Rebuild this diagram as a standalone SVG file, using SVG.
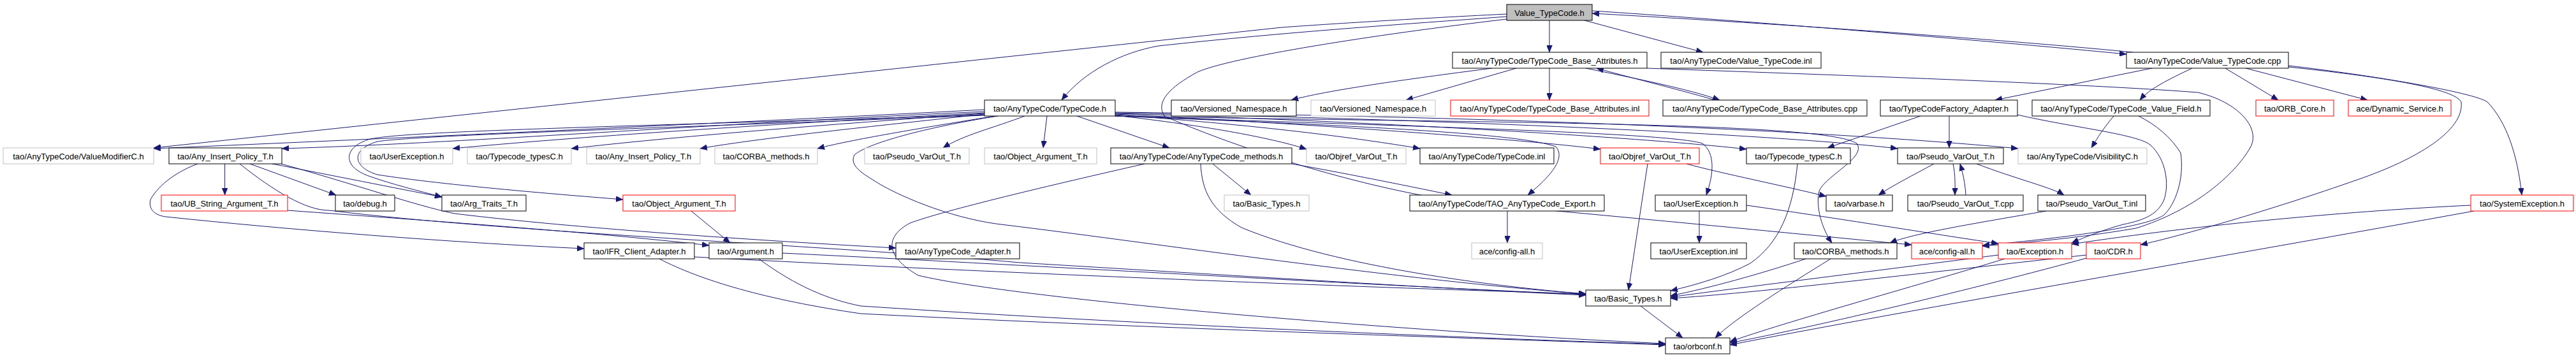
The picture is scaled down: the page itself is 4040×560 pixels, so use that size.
<svg xmlns="http://www.w3.org/2000/svg" width="4040" height="560" viewBox="0 0 4040 560">
<style>
.nd rect{fill:#fff;stroke:#000;stroke-width:1}
.nd.g rect{stroke:#bfbfbf}
.nd.r rect{stroke:#ff0000}
.nd.root rect{fill:#bfbfbf;stroke:#000}
.nd text{font-family:"Liberation Sans",Arial,sans-serif;font-size:13px;text-anchor:middle;fill:#000}
#edges path{fill:none;stroke:#191970;stroke-width:1}
</style>
<defs>
<marker id="a" markerUnits="userSpaceOnUse" markerWidth="11" markerHeight="9" refX="11" refY="4.5" orient="auto">
<path d="M0,0 L11,4.5 L0,9 z" fill="#191970" stroke="#191970" stroke-width="0.5"/>
</marker>
</defs>
<rect width="4040" height="560" fill="#fff"/>
<g id="edges" marker-end="url(#a)">
<path d="M2430,32 L2430,82"/>
<path d="M2485,32 L2671,82"/>
<path d="M2497,17 C2700,30 3100,62 3335,85"/>
<path d="M3345,82 C3100,58 2700,32 2497,21"/>
<path d="M2363,26 C2200,38 2020,50 1817,72 C1760,82 1700,112 1665,157"/>
<path d="M2363,22 C2200,30 2050,40 2010,43 L241,232"/>
<path d="M2363,30 C2150,55 1930,90 1878,113 C1834,137 1812,160 1826,182 C1900,215 2100,290 2300,318 C2600,345 2850,370 2998,384"/>
<path d="M2340,107 C2200,125 2080,142 2025,157"/>
<path d="M2378,107 L2205,157"/>
<path d="M2430,107 L2430,157"/>
<path d="M2487,107 C2560,122 2650,140 2697,157"/>
<path d="M2690,157 C2620,137 2550,120 2504,107"/>
<path d="M2583,107 C2800,115 3250,130 3447,145 C3510,160 3545,200 3530,230 C3505,275 3440,330 3350,358 C3250,375 3160,382 3109,386"/>
<path d="M1544,172 C1200,190 600,218 241,233"/>
<path d="M1544,175 C1100,195 700,226 442,233"/>
<path d="M1544,177 C1200,195 900,215 710,233"/>
<path d="M1544,178 C1300,195 1050,215 896,233"/>
<path d="M1544,179 C1400,195 1200,215 1098,233"/>
<path d="M1560,182 C1450,200 1330,220 1282,233"/>
<path d="M1607,182 C1560,200 1510,212 1479,232"/>
<path d="M1642,182 L1636,232"/>
<path d="M1689,182 L1834,232"/>
<path d="M1544,180 C1000,198 640,205 581,218 C538,230 535,262 581,277 C615,289 655,299 693,309"/>
<path d="M1544,181 C1000,202 660,212 592,222 C550,234 552,262 592,274 C700,291 890,306 977,313"/>
<path d="M1902,257 L1962,306"/>
<path d="M1749,181 C1900,198 2000,218 2049,234"/>
<path d="M1749,180 C2000,198 2150,220 2227,233"/>
<path d="M1749,179 C2100,197 2400,220 2510,234"/>
<path d="M1749,178 C2200,192 2600,218 2739,234"/>
<path d="M1749,177 C2300,188 2800,212 2976,233"/>
<path d="M1749,176 C2400,183 2900,208 3165,233"/>
<path d="M1749,182 C2100,196 2380,208 2440,230 C2458,250 2425,282 2396,306"/>
<path d="M1749,182 C2200,198 2620,208 2670,225 C2690,240 2688,272 2676,306"/>
<path d="M1565,182 C1450,200 1360,225 1340,243 C1330,262 1360,276 1380,289 C1420,312 1500,345 1578,353 C1800,380 2200,440 2487,461"/>
<path d="M2364,331 L2364,381"/>
<path d="M1749,182 C2300,193 2860,190 2912,225 C2928,247 2862,276 2853,300 C2847,325 2858,360 2873,381"/>
<path d="M2645,257 C2700,272 2800,292 2864,308"/>
<path d="M2819,257 C2812,330 2790,382 2745,413 C2710,432 2660,447 2620,456"/>
<path d="M2584,257 L2554,455"/>
<path d="M2665,331 L2665,381"/>
<path d="M2739,322 C2900,345 3050,370 3134,382"/>
<path d="M2573,480 L2639,530"/>
<path d="M2871,406 C2800,450 2720,500 2690,530"/>
<path d="M3144,406 C3000,450 2800,505 2713,536"/>
<path d="M3272,405 C3100,452 2850,512 2713,538"/>
<path d="M3880,331 C3500,400 3000,485 2713,541"/>
<path d="M2832,406 C2760,430 2680,452 2620,464"/>
<path d="M3134,400 C2900,430 2700,455 2620,466"/>
<path d="M3272,400 C3000,430 2750,460 2620,468"/>
<path d="M3875,322 C3700,330 3450,352 3249,383"/>
<path d="M3589,105 C3750,122 3850,140 3860,160 C3865,205 3790,250 3697,282 C3560,330 3420,370 3357,384"/>
<path d="M3589,103 C3720,118 3880,145 3901,160 C3930,190 3948,240 3955,306"/>
<path d="M3375,107 L3129,157"/>
<path d="M3438,107 C3400,125 3370,140 3356,157"/>
<path d="M3490,107 L3573,157"/>
<path d="M3522,107 L3713,157"/>
<path d="M3012,182 L2866,232"/>
<path d="M3057,182 L3057,232"/>
<path d="M3164,180 C3250,200 3350,210 3372,227 C3398,250 3402,290 3394,313 C3385,335 3365,345 3330,352 C3300,360 3270,372 3249,381"/>
<path d="M3354,182 C3380,195 3405,215 3420,240 C3426,280 3412,320 3394,337 C3370,355 3250,372 3109,385"/>
<path d="M3033,257 C3000,275 2970,290 2946,306"/>
<path d="M3063,257 C3067,275 3066,292 3066,306"/>
<path d="M3083,306 C3082,287 3078,270 3074,257"/>
<path d="M3100,257 C3160,280 3220,295 3237,306"/>
<path d="M3209,331 C3100,350 3000,366 2964,381"/>
<path d="M3315,182 C3300,200 3290,215 3280,232"/>
<path d="M352.6,257 L352.6,306"/>
<path d="M392,257 L527,306"/>
<path d="M376,257 C430,300 480,330 516,330 C800,365 1300,385 1600,412 C1900,430 2300,455 2487,463"/>
<path d="M451,330 C700,348 950,366 1112,385"/>
<path d="M310,257 C280,268 250,288 236,313 C232,330 245,338 260,340 C450,360 700,380 916,390"/>
<path d="M427,257 C520,275 620,295 693,309"/>
<path d="M441,257 C560,290 650,322 713,335 C900,358 1200,378 1405,389"/>
<path d="M1089,403 C1500,425 2100,450 2487,461"/>
<path d="M1227,397 C1600,415 2100,445 2487,462"/>
<path d="M1034,406 C1100,440 1200,470 1350,492 C1800,515 2300,530 2612,541"/>
<path d="M1190,406 C1250,450 1300,470 1350,480 C1800,510 2300,530 2612,540"/>
<path d="M1795,257 C1650,290 1480,330 1427,350 C1390,370 1385,400 1440,432 C1600,470 2200,520 2612,539"/>
<path d="M1883,257 C1885,300 1900,330 1947,357 C2100,420 2350,450 2487,461"/>
<path d="M2026,257 C2100,270 2200,290 2277,306"/>
<path d="M1084,331 L1145,381"/>
</g>
<g id="n0" class="nd root"><rect x="2363" y="7" width="134" height="25"/><text x="2430" y="24.5">Value_TypeCode.h</text></g>
<g id="n1" class="nd"><rect x="2278" y="82" width="305" height="25"/><text x="2430.5" y="99.5">tao/AnyTypeCode/TypeCode_Base_Attributes.h</text></g>
<g id="n2" class="nd"><rect x="2605" y="82" width="251" height="25"/><text x="2730.5" y="99.5">tao/AnyTypeCode/Value_TypeCode.inl</text></g>
<g id="n3" class="nd"><rect x="3335" y="82" width="254" height="25"/><text x="3462" y="99.5">tao/AnyTypeCode/Value_TypeCode.cpp</text></g>
<g id="n4" class="nd"><rect x="1544" y="157" width="205" height="25"/><text x="1646.5" y="174.5">tao/AnyTypeCode/TypeCode.h</text></g>
<g id="n5" class="nd"><rect x="1837" y="157" width="196" height="25"/><text x="1935" y="174.5">tao/Versioned_Namespace.h</text></g>
<g id="n6" class="nd g"><rect x="2056" y="157" width="195" height="25"/><text x="2153.5" y="174.5">tao/Versioned_Namespace.h</text></g>
<g id="n7" class="nd r"><rect x="2275" y="157" width="311" height="25"/><text x="2430.5" y="174.5">tao/AnyTypeCode/TypeCode_Base_Attributes.inl</text></g>
<g id="n8" class="nd"><rect x="2608" y="157" width="320" height="25"/><text x="2768" y="174.5">tao/AnyTypeCode/TypeCode_Base_Attributes.cpp</text></g>
<g id="n9" class="nd"><rect x="2949" y="157" width="215" height="25"/><text x="3056.5" y="174.5">tao/TypeCodeFactory_Adapter.h</text></g>
<g id="n10" class="nd"><rect x="3187" y="157" width="279" height="25"/><text x="3326.5" y="174.5">tao/AnyTypeCode/TypeCode_Value_Field.h</text></g>
<g id="n11" class="nd r"><rect x="3538" y="157" width="122" height="25"/><text x="3599" y="174.5">tao/ORB_Core.h</text></g>
<g id="n12" class="nd r"><rect x="3683" y="157" width="161" height="25"/><text x="3763.5" y="174.5">ace/Dynamic_Service.h</text></g>
<g id="n13" class="nd g"><rect x="5" y="232" width="236" height="25"/><text x="123" y="249.5">tao/AnyTypeCode/ValueModifierC.h</text></g>
<g id="n14" class="nd"><rect x="265" y="232" width="177" height="25"/><text x="353.5" y="249.5">tao/Any_Insert_Policy_T.h</text></g>
<g id="n15" class="nd g"><rect x="566" y="232" width="144" height="25"/><text x="638" y="249.5">tao/UserException.h</text></g>
<g id="n16" class="nd g"><rect x="733" y="232" width="163" height="25"/><text x="814.5" y="249.5">tao/Typecode_typesC.h</text></g>
<g id="n17" class="nd g"><rect x="920" y="232" width="178" height="25"/><text x="1009" y="249.5">tao/Any_Insert_Policy_T.h</text></g>
<g id="n18" class="nd g"><rect x="1121" y="232" width="161" height="25"/><text x="1201.5" y="249.5">tao/CORBA_methods.h</text></g>
<g id="n19" class="nd g"><rect x="1356" y="232" width="164" height="25"/><text x="1438" y="249.5">tao/Pseudo_VarOut_T.h</text></g>
<g id="n20" class="nd g"><rect x="1544" y="232" width="176" height="25"/><text x="1632" y="249.5">tao/Object_Argument_T.h</text></g>
<g id="n21" class="nd"><rect x="1742" y="232" width="284" height="25"/><text x="1884" y="249.5">tao/AnyTypeCode/AnyTypeCode_methods.h</text></g>
<g id="n22" class="nd g"><rect x="2049" y="232" width="156" height="25"/><text x="2127" y="249.5">tao/Objref_VarOut_T.h</text></g>
<g id="n23" class="nd"><rect x="2227" y="232" width="210" height="25"/><text x="2332" y="249.5">tao/AnyTypeCode/TypeCode.inl</text></g>
<g id="n24" class="nd r"><rect x="2510" y="232" width="155" height="25"/><text x="2587.5" y="249.5">tao/Objref_VarOut_T.h</text></g>
<g id="n25" class="nd"><rect x="2739" y="232" width="163" height="25"/><text x="2820.5" y="249.5">tao/Typecode_typesC.h</text></g>
<g id="n26" class="nd"><rect x="2976" y="232" width="166" height="25"/><text x="3059" y="249.5">tao/Pseudo_VarOut_T.h</text></g>
<g id="n27" class="nd g"><rect x="3165" y="232" width="202" height="25"/><text x="3266" y="249.5">tao/AnyTypeCode/VisibilityC.h</text></g>
<g id="n28" class="nd r"><rect x="253" y="306" width="198" height="25"/><text x="352" y="323.5">tao/UB_String_Argument_T.h</text></g>
<g id="n29" class="nd"><rect x="526" y="306" width="93" height="25"/><text x="572.5" y="323.5">tao/debug.h</text></g>
<g id="n30" class="nd"><rect x="693" y="306" width="132" height="25"/><text x="759" y="323.5">tao/Arg_Traits_T.h</text></g>
<g id="n31" class="nd r"><rect x="977" y="306" width="176" height="25"/><text x="1065" y="323.5">tao/Object_Argument_T.h</text></g>
<g id="n32" class="nd g"><rect x="1920" y="306" width="133" height="25"/><text x="1986.5" y="323.5">tao/Basic_Types.h</text></g>
<g id="n33" class="nd"><rect x="2211" y="306" width="305" height="25"/><text x="2363.5" y="323.5">tao/AnyTypeCode/TAO_AnyTypeCode_Export.h</text></g>
<g id="n34" class="nd"><rect x="2596" y="306" width="143" height="25"/><text x="2667.5" y="323.5">tao/UserException.h</text></g>
<g id="n35" class="nd"><rect x="2864" y="306" width="104" height="25"/><text x="2916" y="323.5">tao/varbase.h</text></g>
<g id="n36" class="nd"><rect x="2992" y="306" width="181" height="25"/><text x="3082.5" y="323.5">tao/Pseudo_VarOut_T.cpp</text></g>
<g id="n37" class="nd"><rect x="3196" y="306" width="169" height="25"/><text x="3280.5" y="323.5">tao/Pseudo_VarOut_T.inl</text></g>
<g id="n38" class="nd r"><rect x="3875" y="306" width="161" height="25"/><text x="3955.5" y="323.5">tao/SystemException.h</text></g>
<g id="n39" class="nd"><rect x="916" y="381" width="173" height="25"/><text x="1002.5" y="398.5">tao/IFR_Client_Adapter.h</text></g>
<g id="n40" class="nd"><rect x="1112" y="381" width="115" height="25"/><text x="1169.5" y="398.5">tao/Argument.h</text></g>
<g id="n41" class="nd"><rect x="1405" y="381" width="194" height="25"/><text x="1502" y="398.5">tao/AnyTypeCode_Adapter.h</text></g>
<g id="n42" class="nd g"><rect x="2308" y="381" width="111" height="25"/><text x="2363.5" y="398.5">ace/config-all.h</text></g>
<g id="n43" class="nd"><rect x="2589" y="381" width="150" height="25"/><text x="2664" y="398.5">tao/UserException.inl</text></g>
<g id="n44" class="nd"><rect x="2814" y="381" width="161" height="25"/><text x="2894.5" y="398.5">tao/CORBA_methods.h</text></g>
<g id="n45" class="nd r"><rect x="2998" y="381" width="111" height="25"/><text x="3053.5" y="398.5">ace/config-all.h</text></g>
<g id="n46" class="nd r"><rect x="3134" y="381" width="115" height="25"/><text x="3191.5" y="398.5">tao/Exception.h</text></g>
<g id="n47" class="nd r"><rect x="3272" y="381" width="85" height="25"/><text x="3314.5" y="398.5">tao/CDR.h</text></g>
<g id="n48" class="nd"><rect x="2487" y="455" width="133" height="25"/><text x="2553.5" y="472.5">tao/Basic_Types.h</text></g>
<g id="n49" class="nd"><rect x="2612" y="530" width="101" height="25"/><text x="2662.5" y="547.5">tao/orbconf.h</text></g>
</svg>
